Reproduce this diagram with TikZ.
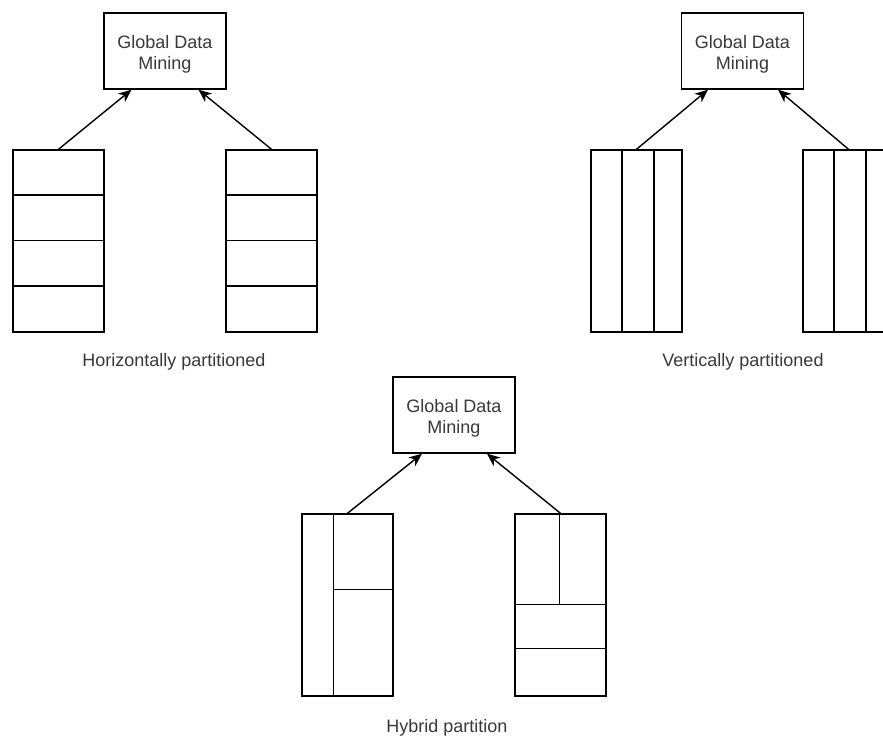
\documentclass[tikz,border=0pt]{standalone}
\usepackage{fontspec}
\setmainfont{Liberation Sans}
\usetikzlibrary{arrows.meta,calc}
\tikzset{
  gdm/.style={draw, line width=1.4pt, minimum width=122pt, minimum height=76pt, inner sep=0pt},
  gdmtext/.style={inner sep=0pt, align=center, font=\fontsize{18}{21}\selectfont, text=black!78},
  part/.style={draw, line width=1.4pt, minimum width=91pt, minimum height=182pt, inner sep=0pt},
  divider/.style={line width=1.4pt},
  feed/.style={line width=1.4pt, -{Stealth[length=13pt,width=11pt,inset=4pt]}},
  caption/.style={font=\fontsize{18}{21}\selectfont, text=black!78}
}
\begin{document}
\begin{tikzpicture}[x=1pt,y=-1pt]
\useasboundingbox (0,0) rectangle (883,736);
\clip (0,0) rectangle (883,736);

% ---------- horizontally partitioned ----------
\node[gdm] (g1) at (165,51) {};
\node[gdmtext] (g1t) at (165,54) {Global Data\\Mining};
\node[part] (h1) at (58.5,241) {};
\node[part] (h2) at (271.5,241) {};
\foreach \d in {45.5,91,136.5}{
  \draw[divider] ($(h1.north west)+(0,\d)$) -- ($(h1.north east)+(0,\d)$);
  \draw[divider] ($(h2.north west)+(0,\d)$) -- ($(h2.north east)+(0,\d)$);
}
\draw[feed] (h1.north) -- ($(g1.south)+(-33.5,0)$);
\draw[feed] (h2.north) -- ($(g1.south)+(33.5,0)$);
\node[caption] (c1) at (174,362) {Horizontally partitioned};

% ---------- vertically partitioned ----------
\node[gdm] (g2) at (742.5,51) {};
\node[gdmtext] (g2t) at (742.5,54) {Global Data\\Mining};
\node[part] (v1) at (636.5,241) {};
\node[part] (v2) at (848.5,241) {};
\foreach \d in {31.5,63.5}{
  \draw[divider] ($(v1.north west)+(\d,0)$) -- ($(v1.south west)+(\d,0)$);
  \draw[divider] ($(v2.north west)+(\d,0)$) -- ($(v2.south west)+(\d,0)$);
}
\draw[feed] (v1.north) -- ($(g2.south)+(-34.5,0)$);
\draw[feed] (v2.north) -- ($(g2.south)+(35.5,0)$);
\node[caption] (c2) at (743,362) {Vertically partitioned};

% ---------- hybrid partition ----------
\node[gdm] (g3) at (454,415) {};
\node[gdmtext] (g3t) at (454,418) {Global Data\\Mining};
\node[part] (y1) at (347.5,605) {};
\node[part] (y2) at (560.5,605) {};
% left block: one narrow column, the wide column split in two
\coordinate (y1t) at ($(y1.north west)+(32,0)$);
\coordinate (y1b) at ($(y1.south west)+(32,0)$);
\coordinate (y1m) at ($(y1.north west)+(32,76)$);
\draw[divider] (y1t) -- (y1b);
\draw[divider] (y1m) -- ($(y1.north east)+(0,76)$);
% right block: two columns on top, two rows below
\coordinate (y2a) at ($(y2.north west)+(0,91)$);
\coordinate (y2b) at ($(y2.north west)+(0,135)$);
\draw[divider] ($(y2.north west)+(45,0)$) -- ($(y2a)+(45,0)$);
\draw[divider] (y2a) -- ($(y2.north east)+(0,91)$);
\draw[divider] (y2b) -- ($(y2.north east)+(0,135)$);
\draw[feed] (y1.north) -- ($(g3.south)+(-32,0)$);
\draw[feed] (y2.north) -- ($(g3.south)+(33,0)$);
\node[caption] (c3) at (447,728) {Hybrid partition};
\end{tikzpicture}
\end{document}
